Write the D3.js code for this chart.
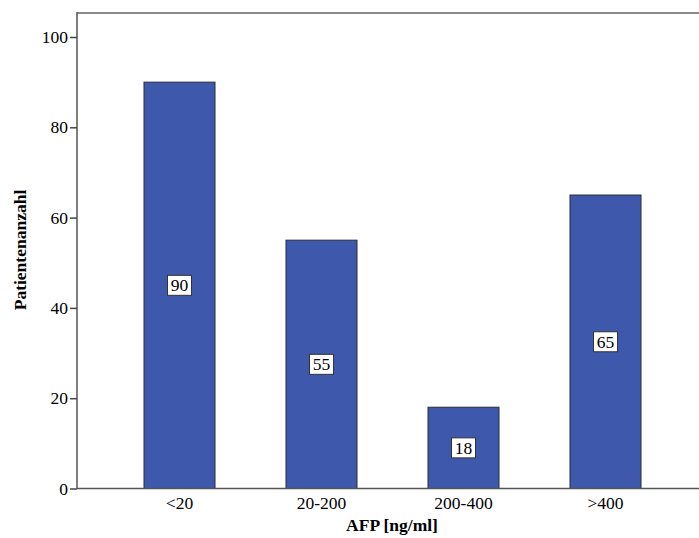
<html lang="de">
<head>
  <meta charset="UTF-8">
  <title>AFP Patientenanzahl</title>
  <script src="https://d3js.org/d3.v7.min.js"></script>
  <style>
    body { margin: 0; background: white; }
    svg text { font-family: "Liberation Serif", "DejaVu Serif", serif; }
  </style>
</head>
<body>
  <svg class="afp" width="699" height="538"></svg>
  <script>
    const categories = ["<20", "20-200", "200-400", ">400"];
    const counts = [90, 55, 18, 65];
    const yTicks = [0, 20, 40, 60, 80, 100];

    const svg = d3.select("svg.afp");
    const plotLeft = 77, plotTop = 13, plotBottom = 488.5;
    const serif = "'Liberation Serif', 'DejaVu Serif', serif";

    const x = d3.scaleBand()
      .domain(categories)
      .range([108.5, 676.5])
      .paddingInner(0.5)
      .paddingOuter(0.25);

    const y = d3.scaleLinear()
      .domain([0, 100])
      .range([plotBottom, 37]);

    // frame: top and left lines
    svg.append("line")
      .attr("x1", plotLeft).attr("x2", 699)
      .attr("y1", plotTop).attr("y2", plotTop)
      .attr("stroke", "#8a8a8a").attr("stroke-width", 2);
    svg.append("line")
      .attr("x1", plotLeft).attr("x2", plotLeft)
      .attr("y1", plotTop - 1).attr("y2", plotBottom)
      .attr("stroke", "#555").attr("stroke-width", 1.5);

    // bars
    svg.append("g").selectAll("rect")
      .data(counts)
      .join("rect")
      .attr("x", (d, i) => x(categories[i]))
      .attr("y", d => y(d))
      .attr("width", x.bandwidth())
      .attr("height", d => y(0) - y(d))
      .attr("fill", "#3e58ab")
      .attr("stroke", "#2a2a3a")
      .attr("stroke-width", 1);

    // value labels
    const lab = svg.append("g").selectAll("g")
      .data(counts)
      .join("g")
      .attr("transform", (d, i) =>
        `translate(${x(categories[i]) + x.bandwidth() / 2},${y(d / 2)})`);
    lab.append("rect")
      .attr("x", -12).attr("y", -10)
      .attr("width", 24).attr("height", 20)
      .attr("fill", "white")
      .attr("stroke", "#333").attr("stroke-width", 1);
    lab.append("text")
      .attr("text-anchor", "middle")
      .attr("dy", "0.35em")
      .style("font-family", serif)
      .style("font-size", "17.5px")
      .attr("fill", "black")
      .text(d => d);

    // y axis
    const yAxis = svg.append("g")
      .attr("transform", `translate(${plotLeft},0)`)
      .call(d3.axisLeft(y).tickValues(yTicks).tickSize(7).tickPadding(2));
    yAxis.select(".domain").remove();
    yAxis.selectAll("line").attr("stroke", "#444").attr("stroke-width", 1.5);
    yAxis.selectAll("text")
      .attr("fill", "black")
      .style("font-family", serif)
      .style("font-size", "17.5px");

    // x axis
    const xAxis = svg.append("g")
      .attr("transform", `translate(0,${plotBottom})`)
      .call(d3.axisBottom(x).tickSize(0).tickPadding(8));
    xAxis.select(".domain").remove();
    xAxis.selectAll("text")
      .attr("fill", "black")
      .style("font-family", serif)
      .style("font-size", "17.5px");
    svg.append("line")
      .attr("x1", plotLeft).attr("x2", 699)
      .attr("y1", plotBottom).attr("y2", plotBottom)
      .attr("stroke", "#555").attr("stroke-width", 1.5);

    // axis titles
    svg.append("text")
      .attr("x", 392).attr("y", 531)
      .attr("text-anchor", "middle")
      .style("font-family", serif)
      .style("font-size", "17.5px")
      .attr("font-weight", "bold")
      .text("AFP [ng/ml]");
    svg.append("text")
      .attr("transform", "translate(26,250) rotate(-90)")
      .attr("text-anchor", "middle")
      .style("font-family", serif)
      .style("font-size", "17.5px")
      .attr("font-weight", "bold")
      .text("Patientenanzahl");
  </script>
</body>
</html>
